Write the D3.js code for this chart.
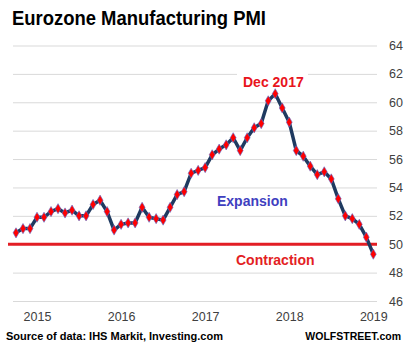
<!DOCTYPE html>
<html>
<head>
<meta charset="utf-8">
<script src="https://cdn.jsdelivr.net/npm/d3@7"></script>
<style>
  body { margin: 0; background: #fff; }
  svg { display: block; font-family: "Liberation Sans", Arial, sans-serif; }
</style>
</head>
<body>
<svg></svg>
<script>
// monthly PMI readings, Nov 2014 .. Feb 2019
const months = [
  "2014-11","2014-12","2015-01","2015-02","2015-03","2015-04","2015-05","2015-06","2015-07","2015-08","2015-09","2015-10","2015-11","2015-12",
  "2016-01","2016-02","2016-03","2016-04","2016-05","2016-06","2016-07","2016-08","2016-09","2016-10","2016-11","2016-12",
  "2017-01","2017-02","2017-03","2017-04","2017-05","2017-06","2017-07","2017-08","2017-09","2017-10","2017-11","2017-12",
  "2018-01","2018-02","2018-03","2018-04","2018-05","2018-06","2018-07","2018-08","2018-09","2018-10","2018-11","2018-12",
  "2019-01","2019-02"
]
const pmi = [
  50.8, 51.1, 51.1, 51.9, 51.9, 52.3, 52.5, 52.2, 52.4, 52.0, 52.0, 52.8, 53.1,
  52.3, 51.0, 51.4, 51.5, 51.5, 52.6, 51.9, 51.8, 51.7, 52.6, 53.5, 53.7,
  55.0, 55.2, 55.4, 56.3, 56.7, 57.0, 57.5, 56.6, 57.5, 58.2, 58.5, 60.1, 60.6,
  59.6, 58.6, 56.6, 56.2, 55.5, 54.9, 55.1, 54.6, 53.2, 52.0, 51.8, 51.4,
  50.5, 49.3
]
// year labels and the month they sit under
const yearTickMonths = ["2015-02", "2016-02", "2017-02", "2018-02", "2019-02"]
const yearLabels = ["2015", "2016", "2017", "2018", "2019"]
const yTicks = [46, 48, 50, 52, 54, 56, 58, 60, 62, 64]
const threshold = 50

document.addEventListener("DOMContentLoaded", function() {
  drawChart(months.map((m, i) => ({ month: m, value: pmi[i] })))
})

function drawChart(data) {
  let
    svgWidth = 411,
    svgHeight = 352

  let svg = d3.select("svg")
    .attr("width", svgWidth)
    .attr("height", svgHeight)

  let x = d3.scalePoint()
    .domain(months)
    .range([16, 373.3])

  let y = d3.scaleLinear()
    .domain([46, 64])
    .range([301, 45.5])

  // gridlines + right hand labels
  let yAxis = svg.append("g")
    .attr("transform", "translate(377, 0)")
    .call(d3.axisRight(y).tickValues(yTicks).tickSize(-364).tickPadding(12))
  yAxis.select(".domain").remove()
  yAxis.selectAll("line").attr("stroke", "#d9d9d9")
  yAxis.selectAll("text")
    .attr("fill", "#404040")
    .style("font-size", "12.5px")

  let xAxis = svg.append("g")
    .attr("transform", "translate(0, 309)")
    .call(d3.axisBottom(x)
      .tickValues(yearTickMonths)
      .tickFormat((d, i) => yearLabels[i])
      .tickSize(0))
  xAxis.select(".domain").remove()
  xAxis.selectAll("text")
    .attr("fill", "#404040")
    .style("font-size", "12.5px")

  // label with white box that cuts the 62 gridline
  svg.append("rect")
    .attr("x", 237).attr("y", 64)
    .attr("width", 71).attr("height", 24)
    .attr("fill", "#fff")
  svg.append("text")
    .attr("x", 243).attr("y", 86.5)
    .attr("fill", "#e8141c")
    .style("font-size", "14px")
    .style("font-weight", "bold")
    .text("Dec 2017")

  // expansion / contraction line
  svg.append("line")
    .attr("x1", 8).attr("x2", 377)
    .attr("y1", y(threshold)).attr("y2", y(threshold))
    .attr("stroke", "#e31e24")
    .attr("stroke-width", 3)

  let line = d3.line()
    .x(d => x(d.month))
    .y(d => y(d.value))

  svg.append("path")
    .datum(data)
    .attr("fill", "none")
    .attr("stroke", "#1f3a60")
    .attr("stroke-width", 3.5)
    .attr("stroke-linejoin", "round")
    .attr("d", line)

  svg.append("g")
    .selectAll("path")
    .data(data)
    .join("path")
      .attr("transform", d => `translate(${x(d.month)}, ${y(d.value)})`)
      .attr("d", d3.symbol(d3.symbolDiamond, 30))
      .attr("fill", "#ff0000")
      .attr("stroke", "#5a6fd0")
      .attr("stroke-width", 0.6)

  svg.append("text")
    .attr("x", 217).attr("y", 206)
    .attr("fill", "#3f3fbf")
    .style("font-size", "14px")
    .style("font-weight", "bold")
    .text("Expansion")

  svg.append("text")
    .attr("x", 236).attr("y", 265)
    .attr("fill", "#e31e24")
    .style("font-size", "14px")
    .style("font-weight", "bold")
    .text("Contraction")

  svg.append("text")
    .attr("x", 12).attr("y", 25)
    .attr("textLength", 254)
    .attr("lengthAdjust", "spacingAndGlyphs")
    .style("font-size", "19.5px")
    .style("font-weight", "bold")
    .text("Eurozone  Manufacturing  PMI")

  svg.append("text")
    .attr("x", 6).attr("y", 340)
    .style("font-size", "11px")
    .style("font-weight", "bold")
    .text("Source of data: IHS Markit, Investing.com")

  svg.append("text")
    .attr("x", 401).attr("y", 340)
    .attr("text-anchor", "end")
    .style("font-size", "10.5px")
    .style("font-weight", "bold")
    .text("WOLFSTREET.com")
}
</script>
</body>
</html>
